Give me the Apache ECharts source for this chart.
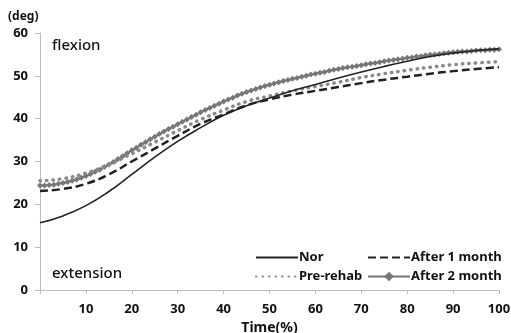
<!DOCTYPE html>
<html>
<head>
<meta charset="utf-8">
<script src="https://cdn.jsdelivr.net/npm/echarts@6/dist/echarts.min.js"></script>
<style>
  html, body { margin: 0; padding: 0; background: #fff; }
  #chart { width: 511px; height: 333px; }
</style>
</head>
<body>
<div id="chart"></div>
<script>
// time points (%) for the coarse series, every 5%
const timeCoarse = [0, 5, 10, 15, 20, 25, 30, 35, 40, 45, 50, 55, 60, 65, 70, 75, 80, 85, 90, 95, 100];

const norValues = [15.7, 17.3, 19.7, 23.0, 27.0, 31.0, 34.7, 37.9, 40.8, 43.0, 44.8, 46.5, 48.0, 49.5, 50.9, 52.2, 53.4, 54.5, 55.3, 55.9, 56.3];
const preRehabValues = [25.5, 26.0, 27.3, 29.3, 31.8, 34.5, 37.2, 39.8, 42.0, 44.0, 45.3, 46.5, 47.5, 48.5, 49.6, 50.5, 51.3, 52.0, 52.6, 53.0, 53.3];
const after1Values = [23.1, 23.6, 24.8, 27.0, 30.0, 33.0, 36.0, 38.8, 41.0, 43.1, 44.5, 45.6, 46.5, 47.4, 48.3, 49.1, 49.8, 50.5, 51.1, 51.6, 52.0];

// after 2 month is plotted with a marker on every 1% step
const timeFine = Array.from({ length: 101 }, (_, i) => i);
const after2Values = [
  24.4, 24.4, 24.5, 24.6, 24.8, 25.0, 25.2, 25.5, 25.8, 26.2,
  26.6, 27.1, 27.6, 28.1, 28.7, 29.3, 29.9, 30.6, 31.2, 31.9,
  32.6, 33.2, 33.9, 34.5, 35.2, 35.8, 36.4, 37.0, 37.6, 38.1,
  38.7, 39.3, 39.8, 40.4, 40.9, 41.5, 42.0, 42.5, 43.0, 43.5,
  44.0, 44.5, 44.9, 45.4, 45.8, 46.2, 46.6, 46.9, 47.3, 47.6,
  47.9, 48.2, 48.5, 48.8, 49.0, 49.3, 49.5, 49.8, 50.0, 50.3,
  50.5, 50.7, 50.9, 51.2, 51.4, 51.6, 51.8, 52.0, 52.1, 52.3,
  52.5, 52.7, 52.9, 53.0, 53.2, 53.4, 53.6, 53.7, 53.9, 54.0,
  54.2, 54.3, 54.5, 54.6, 54.8, 54.9, 55.0, 55.1, 55.3, 55.4,
  55.5, 55.6, 55.7, 55.7, 55.8, 55.9, 56.0, 56.0, 56.1, 56.1,
  56.2
];

const yTicks = [0, 10, 20, 30, 40, 50, 60];

const font = "'Noto Sans', sans-serif";
const pair = (xs, ys) => xs.map((x, i) => [x, ys[i]]);
const noMark = { opacity: 0 };

const legendText = { color: "#111", fontSize: 13, fontWeight: "bold", fontFamily: font, padding: [0, 0, 0, -4] };

const chart = echarts.init(document.getElementById("chart"));

const option = {
  animation: false,
  backgroundColor: "#fff",
  textStyle: { fontFamily: font },
  grid: { left: 40, right: 12, top: 33, bottom: 43, outerBoundsMode: "none" },
  xAxis: {
    type: "value",
    min: 0,
    max: 100,
    interval: 10,
    name: "Time(%)",
    nameLocation: "middle",
    nameGap: 29,
    nameTextStyle: { color: "#111", fontSize: 14, fontWeight: "bold", fontFamily: font },
    axisLine: { lineStyle: { color: "#bdbdbd", width: 1 } },
    axisTick: { show: true, length: 4, lineStyle: { color: "#bdbdbd" } },
    splitLine: { show: false },
    axisLabel: {
      color: "#111",
      fontSize: 13,
      fontWeight: "bold",
      margin: 13,
      formatter: (v) => (v === 0 ? "" : String(v)),
    },
  },
  yAxis: {
    type: "value",
    min: yTicks[0],
    max: yTicks[yTicks.length - 1],
    interval: 10,
    axisLine: { show: true, lineStyle: { color: "#bdbdbd", width: 1 } },
    axisTick: { show: true, length: 5, lineStyle: { color: "#bdbdbd" } },
    splitLine: { show: false },
    axisLabel: { color: "#111", fontSize: 13, fontWeight: "bold", margin: 12 },
  },
  legend: [
    {
      orient: "vertical",
      left: 250,
      top: 246,
      itemWidth: 42,
      itemHeight: 12,
      itemGap: 6,
      textStyle: legendText,
      data: [
        { name: "Nor", itemStyle: noMark },
        { name: "Pre-rehab", itemStyle: noMark },
      ],
    },
    {
      orient: "vertical",
      left: 362,
      top: 246,
      itemWidth: 42,
      itemHeight: 12,
      itemGap: 6,
      textStyle: legendText,
      data: [
        { name: "After 1 month", itemStyle: noMark },
        { name: "After 2 month" },
      ],
    },
  ],
  graphic: [
    { type: "text", left: 8, top: 11, style: { text: "(deg)", fill: "#111", font: "bold 12px " + font } },
    { type: "text", left: 52, top: 38, style: { text: "flexion", fill: "#111", font: "500 15px " + font } },
    { type: "text", left: 52, top: 266, style: { text: "extension", fill: "#111", font: "500 15px " + font } },
  ],
  series: [
    {
      name: "Nor",
      type: "line",
      smooth: true,
      symbol: "none",
      data: pair(timeCoarse, norValues),
      itemStyle: { color: "#222" },
      lineStyle: { color: "#222", width: 1.6 },
      z: 4,
    },
    {
      name: "Pre-rehab",
      type: "line",
      smooth: true,
      symbol: "none",
      data: pair(timeCoarse, preRehabValues),
      itemStyle: { color: "#8a8a8a" },
      lineStyle: { color: "#8a8a8a", width: 3.5, type: [0.5, 6], cap: "round" },
      z: 2,
    },
    {
      name: "After 1 month",
      type: "line",
      smooth: true,
      symbol: "none",
      data: pair(timeCoarse, after1Values),
      itemStyle: { color: "#222" },
      lineStyle: { color: "#222", width: 2.5, type: [8, 4] },
      z: 3,
    },
    {
      name: "After 2 month",
      type: "line",
      smooth: true,
      symbol: "diamond",
      symbolSize: 6,
      showSymbol: true,
      data: pair(timeFine, after2Values),
      itemStyle: { color: "#777" },
      lineStyle: { color: "#777", width: 2 },
      z: 1,
    },
  ],
};

chart.setOption(option);
</script>
</body>
</html>
